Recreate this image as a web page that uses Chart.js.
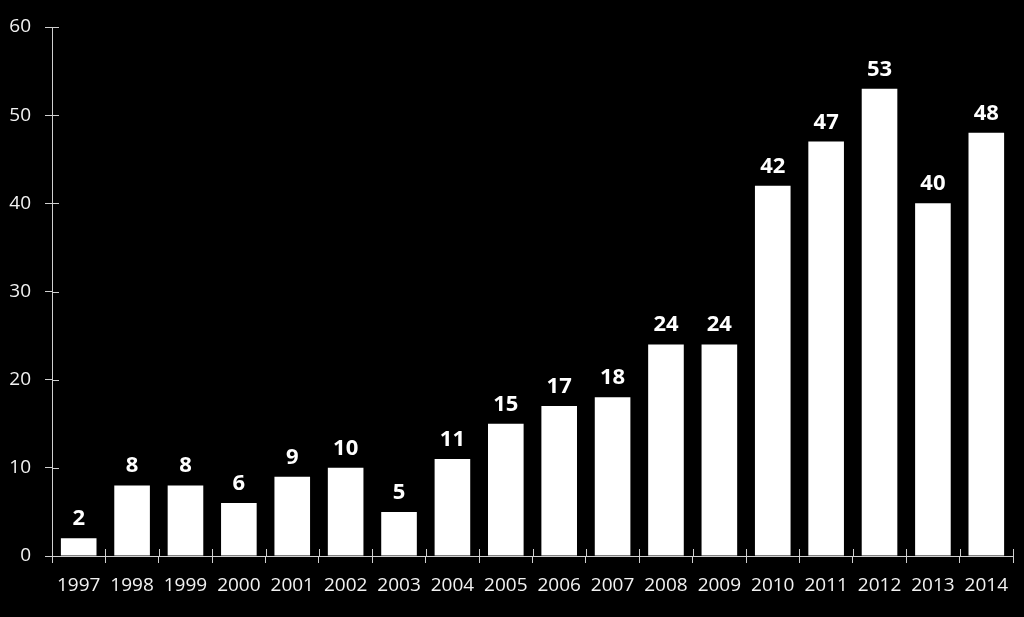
<!DOCTYPE html>
<html>
<head>
<meta charset="utf-8">
<script src="https://cdn.jsdelivr.net/npm/chart.js@4/dist/chart.umd.min.js"></script>
<style>
  html, body { margin: 0; padding: 0; background: #000; }
  #wrap { width: 1024px; height: 617px; position: relative; }
</style>
</head>
<body>
<div id="wrap"><canvas id="grafica"></canvas></div>
<script>
// --- datos ---
const anios = ['1997','1998','1999','2000','2001','2002','2003','2004','2005','2006','2007','2008','2009','2010','2011','2012','2013','2014'];
const valores = [2, 8, 8, 6, 9, 10, 5, 11, 15, 17, 18, 24, 24, 42, 47, 53, 40, 48];
const ticksY = [0, 10, 20, 30, 40, 50, 60];

const colorEje = '#d0d0d0';
const colorTexto = '#f2f2f2';
const fuente = "'Open Sans', sans-serif";

// etiquetas de valor encima de cada barra
const etiquetasBarras = {
    id: 'etiquetasBarras',
    afterDatasetsDraw(chart) {
        const ctx = chart.ctx;
        const meta = chart.getDatasetMeta(0);
        ctx.save();
        ctx.fillStyle = '#ffffff';
        ctx.font = 'bold 22px ' + fuente;
        ctx.textAlign = 'center';
        ctx.textBaseline = 'alphabetic';
        meta.data.forEach((bar, i) => {
            ctx.fillText(String(valores[i]), bar.x, bar.y - 13);
        });
        ctx.restore();
    }
};

// parte interior de las marcas (cruzan el eje como en Excel)
const marcasInternas = {
    id: 'marcasInternas',
    afterDraw(chart) {
        const ctx = chart.ctx;
        const area = chart.chartArea;
        const sy = chart.scales.y;
        ctx.save();
        ctx.strokeStyle = colorEje;
        ctx.lineWidth = 1;
        ctx.beginPath();
        sy.ticks.forEach(t => {
            const y = Math.round(sy.getPixelForValue(t.value)) + 0.5;
            ctx.moveTo(area.left, y);
            ctx.lineTo(area.left + 7, y);
        });
        const n = anios.length;
        const paso = (area.right - area.left) / n;
        for (let i = 0; i <= n; i++) {
            const x = Math.round(area.left + i * paso) + 0.5;
            ctx.moveTo(x, area.bottom);
            ctx.lineTo(x, area.bottom - 7);
        }
        ctx.stroke();
        ctx.restore();
    }
};

const ctx = document.getElementById('grafica').getContext('2d');
new Chart(ctx, {
    type: 'bar',
    data: {
        labels: anios,
        datasets: [{
            data: valores,
            backgroundColor: '#ffffff',
            borderWidth: 0,
            categoryPercentage: 1.0,
            barPercentage: 0.667
        }]
    },
    options: {
        responsive: true,
        maintainAspectRatio: false,
        animation: false,
        layout: { padding: { top: 27, right: 11, bottom: 0, left: 0 } },
        plugins: {
            legend: { display: false },
            tooltip: { enabled: false }
        },
        scales: {
            y: {
                min: 0,
                max: 60,
                afterBuildTicks: (s) => { s.ticks = ticksY.map(v => ({ value: v })); },
                afterFit: (s) => { s.width = 52; },
                border: { display: true, color: colorEje, width: 1 },
                grid: { drawOnChartArea: false, drawTicks: true, tickLength: 7, color: colorEje },
                ticks: { color: colorTexto, padding: 14, font: { family: fuente, size: 19 } }
            },
            x: {
                afterFit: (s) => { s.height = 61; },
                border: { display: true, color: colorEje, width: 1 },
                grid: { drawOnChartArea: false, drawTicks: true, tickLength: 7, color: colorEje, offset: true },
                ticks: { color: colorTexto, padding: 11, maxRotation: 0, autoSkip: false, font: { family: fuente, size: 19 } }
            }
        }
    },
    plugins: [etiquetasBarras, marcasInternas]
});
</script>
</body>
</html>
